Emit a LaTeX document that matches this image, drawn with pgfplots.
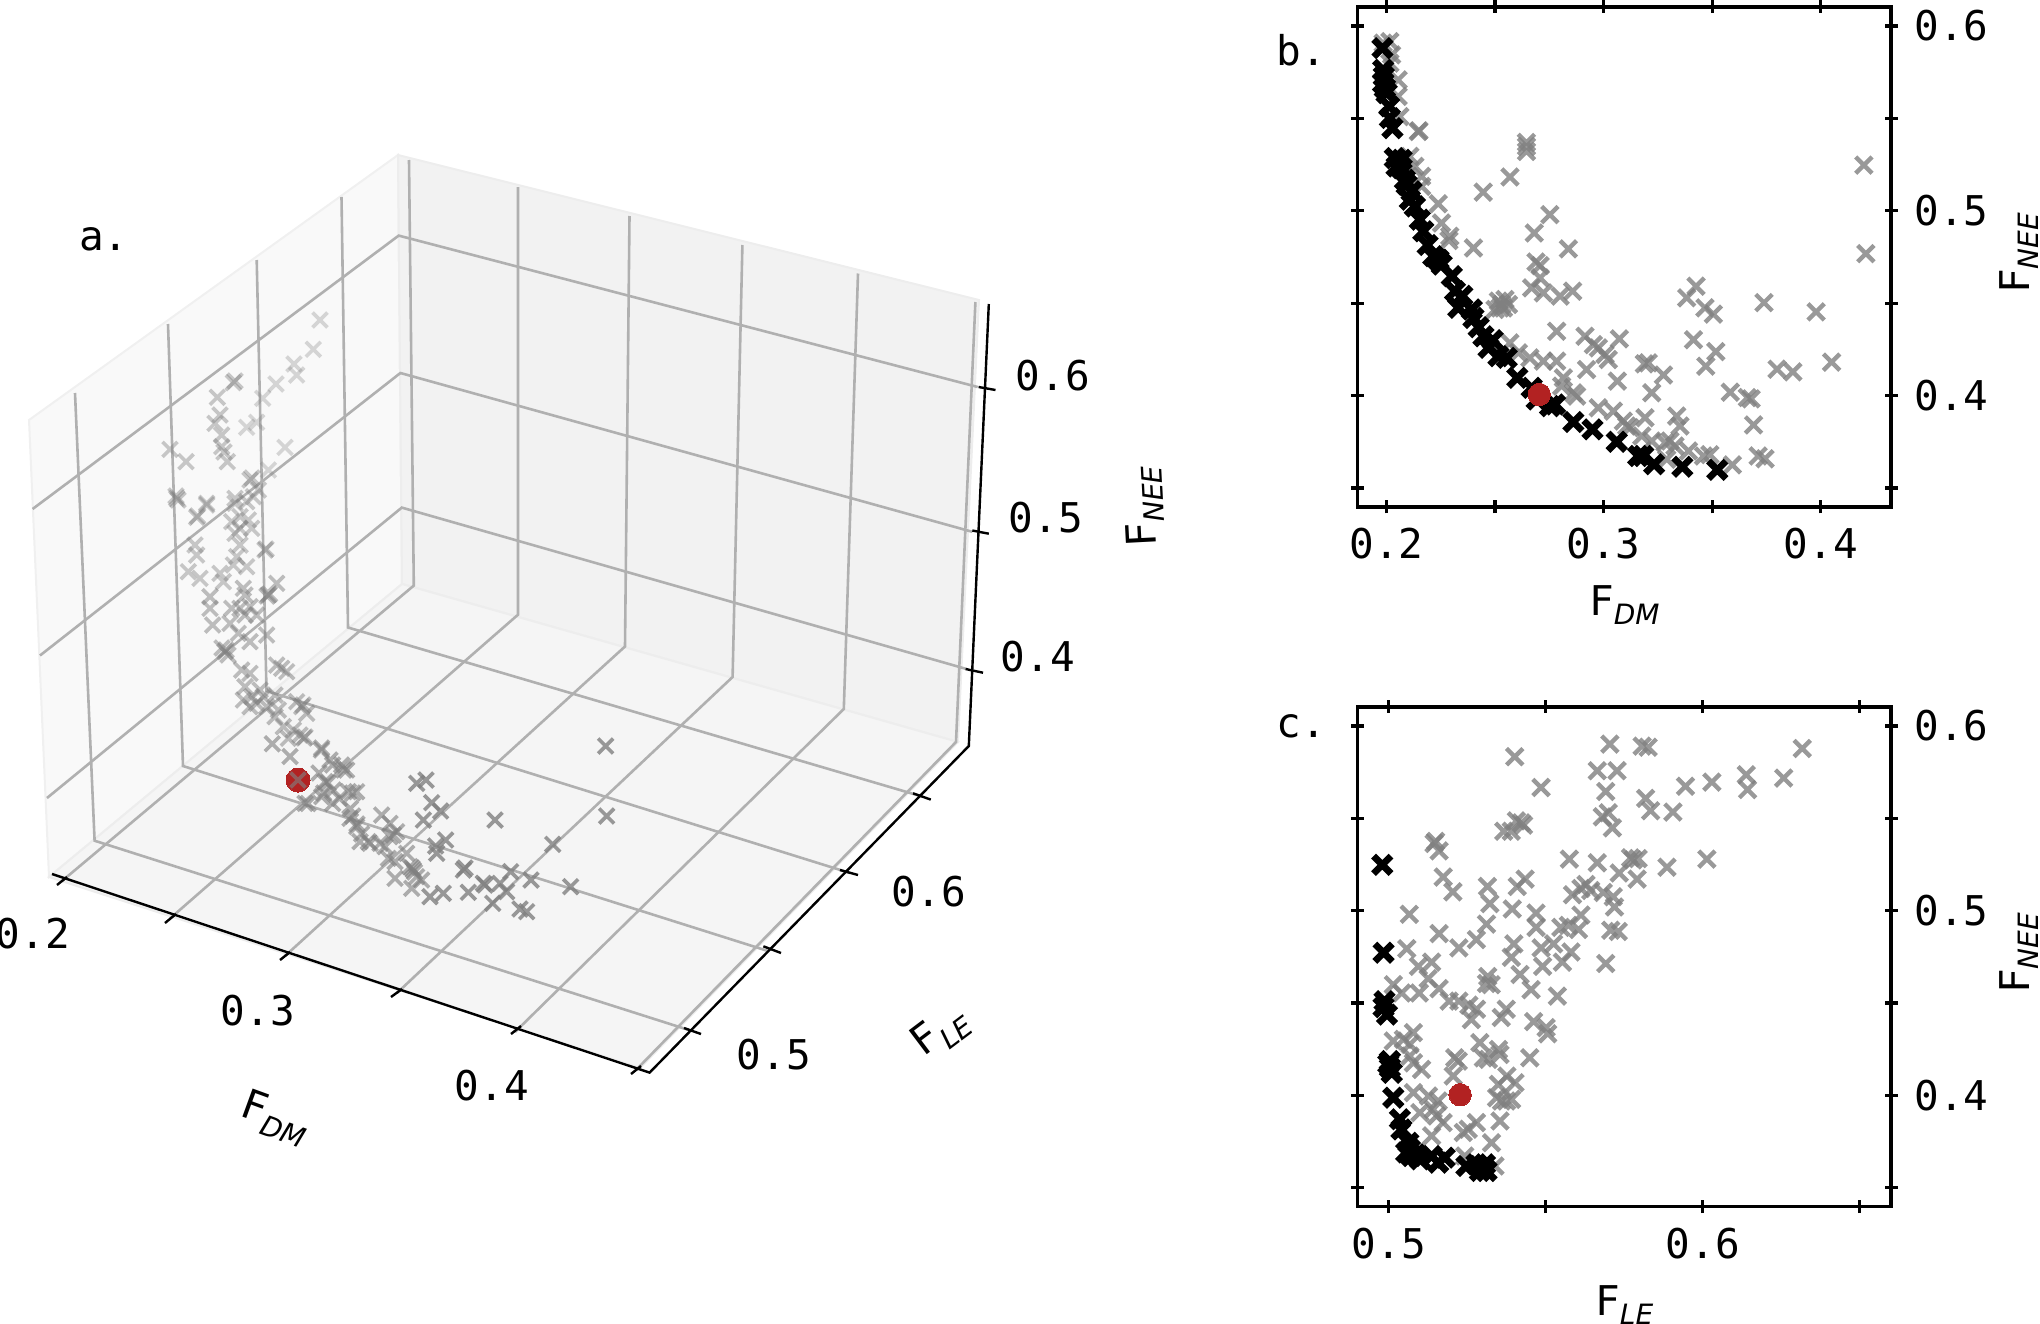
\documentclass[border=0pt]{standalone}
\usepackage{fontspec}
\usepackage{pgfplots}
\pgfplotsset{compat=1.18}
\setmainfont{DejaVu Sans Mono}
\newfontfamily\dvsans{DejaVu Sans}
\definecolor{firebrick}{HTML}{B22222}
\definecolor{gridg}{HTML}{B0B0B0}
\newcommand\lab[1]{F\raisebox{-0.24em}{\dvsans\itshape\fontsize{14}{15}\selectfont #1}}
\newcommand\bigf{\fontsize{20.5}{22}\selectfont}
\pgfplotsset{
  panel/.style={
    scale only axis, width=266.75pt,
    xticklabel style={font=\bigf, yshift=-4pt},
    yticklabel style={font=\bigf, xshift=5pt},
    label style={font=\bigf},
    tick align=center, major tick length=6.5pt,
    tick style={black, line width=1.6pt},
    axis line style={line width=1.6pt},
    yticklabel pos=right,
    ytick={0.35,0.4,0.45,0.5,0.55,0.6},
    yticklabels={,0.4,,0.5,,0.6},
    ymin=0.3397, ymax=0.6103,
    ylabel={\lab{NEE}},
    y label style={at={(axis description cs:1.24,0.507)},anchor=center},
  },
  graypt/.style={only marks, mark=x, mark size=5.8pt, mark options={draw=gray, draw opacity=0.8, line width=2.2pt}},
  blackpt/.style={only marks, mark=x, mark size=6.2pt, mark options={draw=black, line width=3.4pt}},
  redpt/.style={only marks, color=firebrick, mark=*, mark size=5.6pt, mark options={draw=firebrick, fill=firebrick, line width=0pt}},
  gl/.style={draw=gridg, line width=1.3pt, no markers},
  ax/.style={draw=black, line width=1.2pt, no markers},
  pt3/.style={only marks, mark=x, mark size=5.3pt, mark options={draw=gray, draw opacity=#1, line width=1.8pt}},
}
\begin{document}
\begin{tikzpicture}
\useasboundingbox (0,0) rectangle (1020pt,661.5pt);

% panel a: mplot3d projection, everything in picture pixels
\begin{axis}[
  at={(0,0)}, anchor=south west, scale only axis, width=1020pt, height=661.5pt,
  xmin=0, xmax=2040, ymin=0, ymax=1323, y dir=reverse, hide axis, clip=false,
  nodes={font=\bigf},
]
% panes
\addplot[fill=black!2.5, draw=black!6, line width=1pt] coordinates {(29,420)(398,155)(402,584)(49,877)} -- cycle;
\addplot[fill=black!5, draw=black!7, line width=1pt] coordinates {(398,155)(979,300)(958,742)(402,584)} -- cycle;
\addplot[fill=black!4, draw=black!7, line width=1pt] coordinates {(49,877)(402,584)(958,742)(640,1068)} -- cycle;

% z grid
\addplot[gl] coordinates {(32.6,509)(398.7,235.6)(977.7,387)};
\addplot[gl] coordinates {(40,655.5)(400.4,373)(972.3,531.8)};
\addplot[gl] coordinates {(47,798)(401.8,507.6)(966.5,669)};
% F_LE grid
\addplot[gl] coordinates {(75,393)(94.6,840.7)(692,1031)};
\addplot[gl] coordinates {(168,324)(183,766)(768,951)};
\addplot[gl] coordinates {(256.7,260)(266.5,691)(850,873)};
\addplot[gl] coordinates {(341.5,197)(348,627.5)(922,796.5)};
% F_DM grid
\addplot[gl] coordinates {(409,160)(413.8,585.6)(62,881)};
\addplot[gl] coordinates {(518,187)(518,614.7)(170,918.5)};
\addplot[gl] coordinates {(629.5,216)(625,646.5)(285,956)};
\addplot[gl] coordinates {(742.4,245)(732.6,677)(397,993)};
\addplot[gl] coordinates {(858,273.5)(843.8,709)(515,1032)};
\addplot[gl] coordinates {(975.4,302)(956,742)(636,1070)};

% axes
\addplot[ax] coordinates {(52,874)(649.6,1072.6)(968.8,746)(988.8,304)};
\addplot[ax] coordinates {(57,885)(67,877)};
\addplot[ax] coordinates {(165,923)(176,914)};
\addplot[ax] coordinates {(280,960)(290,952)};
\addplot[ax] coordinates {(391,997)(402,989)};
\addplot[ax] coordinates {(511,1034)(521,1026)};
\addplot[ax] coordinates {(631,1074)(641,1066)};
\addplot[ax] coordinates {(684,1028)(701,1034)};
\addplot[ax] coordinates {(763.4,946.3)(781,953)};
\addplot[ax] coordinates {(840,870)(858,875)};
\addplot[ax] coordinates {(913,793.3)(930.8,799.6)};
\addplot[ax] coordinates {(965.6,669)(983,672.7)};
\addplot[ax] coordinates {(972.3,530.5)(988.8,533.7)};
\addplot[ax] coordinates {(978.6,387)(995.5,390)};

\addplot[redpt, mark size=6pt] coordinates {(298,780)};

% points, lightest (farthest) first
\addplot[pt3=0.3] coordinates {(320,320)(313.3,349.3)(294,364)(296.7,375)(276,384)(262.7,398.3)(246.7,427.3)(256.7,422.3)(285,447.3)(268.3,470)};
\addplot[pt3=0.42] coordinates {
(233.3,382.7)(235,381)(217.3,397.3)(220,415)(215,423.3)(221.7,435)(221.7,446.7)(227.3,461.7)(224,452)
(170,449.3)(186,461.7)(250,480)(252,478)(258.3,490)(235,498.3)(206.7,503.3)(253.3,496.7)
(176.7,498.3)(178,500)(176,496)(196.7,517.3)(197.7,516)(206.7,505)(235,503.3)(246.7,501.7)
(231.7,521.7)(240,516.7)(248.3,520)(240,528.3)(235,533.3)(251.7,528.3)(240,545)(236.7,556.7)(246.7,566.7)(233.3,565)
(265,550)(266,549)(195,545)(196.7,555)(188.3,571.7)(200,578.3)(220,573.3)(223.3,581.7)};
\addplot[pt3=0.5] coordinates {
(276.7,583.3)(268.3,595)(269.5,594)(267,596)(243.3,588.3)(245,595)(210,596.7)(210,608.3)
(231.7,608.3)(240,608.3)(250,606.7)(245,615)(256.7,615)(212.7,625)(230,623.3)(266.7,635)(250,641.7)(238.3,633.3)
(225,651.7)(222,648)(228,655)(226,650)(241.7,670)(250,673.3)(281.7,668.3)(276.7,665)(286.7,671.7)(245,686.7)
(251.7,696.7)(243.3,700)(256.7,703.3)(263.3,696.7)(250,706.7)(266.7,706.7)(275,695)(278.3,710)(260,690)
(301.7,706.7)(303,705)(296.7,701.7)(306.7,713.3)(275,716.7)(283.3,726.7)(293.3,730)(300,735)(288.3,738.3)(304,738)(305,737)};
\addplot[pt3=0.62] coordinates {
(272.3,743.8)(290,756.5)(298,780)(308,803.5)(321.4,750)(332.6,765)(343.8,770)(319,773)(328,783)(323.7,793)(332.6,803.5)
(339.3,798.4)(352.7,793)(350.4,808.6)(357,824)(352.7,816)(361.6,834)(368.3,841.7)(321.7,748)(330,760)(341.7,765)(346.7,770)
(325,781.7)(333.3,790)(321.7,796.7)(348.3,791.7)(356.7,791.7)(305,803.3)
(381.7,815)(390,823.3)(396.7,831.7)(390,836.7)(385,846.7)(393.3,835)(380,843.3)(388.3,858.3)(395,861.7)
(350,818.3)(356.7,826.7)(360,841.7)(370,843.3)
(413.3,870)(414.5,872)(412,868)(416.7,876.7)(410,866.7)(421.7,880)(406.7,853.3)(395,878.3)(411.7,888.3)};
\addplot[pt3=0.8] coordinates {
(416.7,783.3)(426,780)(431.7,802.7)(440.7,811)(423.3,820)(495,820)(605.7,746)(606.7,816)(552.7,844.3)
(445.7,840)(435.7,846)(436.7,853.3)(463.3,870)(465,868)(483.3,883.3)(485,885)(500,883.3)(510.7,871.7)(531,880)(570.7,886.7)
(468.3,892.3)(492.7,903.3)(506.7,891.7)(520,909)(526.7,911.7)(443.3,893.3)(430,896.7)};

% texts of panel a
\node at (104,239) {a.};
\node at (1301,50) {b.};
\node at (1301,726) {c.};
\node at (33,934) {0.2};
\node at (258,1011) {0.3};
\node at (492,1086) {0.4};
\node at (774,1055) {0.5};
\node at (929,892) {0.6};
\node at (1038,657) {0.4};
\node at (1046,518) {0.5};
\node at (1053,376) {0.6};
\node[rotate=-20] at (275,1118) {\lab{DM}};
\node[rotate=37] at (941,1032) {\lab{LE}};
\node[rotate=93] at (1144,507) {\lab{NEE}};
\end{axis}

% panel b
\begin{axis}[
  panel, at={(678.75pt,658pt)}, anchor=north west, height=250pt,
  xmin=0.1867, xmax=0.4324,
  xtick={0.2,0.25,0.3,0.35,0.4}, xticklabels={0.2,,0.3,,0.4},
  xlabel={\lab{DM}},
  x label style={at={(axis description cs:0.5,-0.196)},anchor=center},
]
\addplot[graypt] coordinates {
(.1985,.5907)(.2016,.5916)(.2024,.5844)(.2016,.5799)(.2054,.5709)(.2054,.5619)(.2062,.5510)(.2147,.5429)(.2150,.5433)
(.2645,.5370)(.2645,.5348)(.2645,.5321)(.2569,.5183)(.2446,.5101)(.2753,.4979)(.2681,.4880)
(.2108,.5294)(.2131,.5240)(.2162,.5186)(.2162,.5132)(.2239,.5038)(.2254,.4934)(.2292,.4862)(.2288,.4839)
(.4199,.5247)(.4208,.4768)(.2401,.4799)(.2838,.4794)(.2689,.4723)(.2708,.4703)(.2708,.4637)(.2669,.4583)(.2723,.4556)
(.2800,.4538)(.2858,.4565)(.3383,.4529)(.3426,.4592)(.3467,.4475)(.3506,.4441)(.3739,.4503)(.3979,.4453)
(.2516,.4511)(.2531,.4493)(.2500,.4466)(.2546,.4520)(.2523,.4474)(.2539,.4474)(.2562,.4493)
(.2784,.4348)(.2915,.4321)(.2953,.4276)(.2976,.4258)(.3022,.4195)(.3007,.4222)(.3073,.4307)
(.2569,.4285)(.2608,.4231)(.2661,.4204)(.2723,.4186)(.2784,.4186)(.2922,.4141)(.3064,.4078)
(.3188,.4172)(.3206,.4177)(.3276,.4111)(.3222,.4015)(.2815,.4096)(.2807,.4051)(.2861,.4015)(.2876,.3997)
(.2976,.3934)(.3045,.3916)(.3107,.3835)(.3091,.3862)(.3122,.3826)(.3191,.3880)(.3337,.3889)(.3352,.3835)
(.3176,.3781)(.3222,.3754)(.3283,.3745)(.3306,.3754)(.3329,.3727)(.3291,.3655)(.3391,.3700)(.3460,.3673)
(.3490,.3680)(.3593,.3625)(.3712,.3673)(.3744,.3658)(.3691,.3841)(.3584,.4018)(.3662,.3989)(.3680,.3982)
(.3414,.4302)(.3517,.4238)(.3471,.4159)(.3799,.4143)(.3872,.4128)(.4050,.4181)
};
\addplot[blackpt] coordinates {
(.1982,.5880)(.1985,.5763)(.1988,.5727)(.1985,.5691)(.1993,.5664)(.2001,.5637)(.2013,.5565)(.2016,.5502)(.2028,.5447)
(.2039,.5285)(.2070,.5276)(.2047,.5240)(.2070,.5231)(.2085,.5168)(.2093,.5141)(.2108,.5060)(.2131,.5024)(.2116,.5105)
(.2154,.4952)(.2170,.4889)(.2216,.4754)(.2255,.4709)(.2301,.4646)(.2316,.4565)(.2331,.4475)(.2393,.4466)(.2401,.4420)
(.2447,.4321)(.2470,.4258)(.2516,.4213)(.2554,.4204)(.2603,.4096)(.2669,.4042)(.2692,.3979)(.2754,.3943)(.2777,.3952)
(.2861,.3857)(.2949,.3817)(.3061,.3750)(.3160,.3673)(.3183,.3673)(.3233,.3628)(.3363,.3615)(.3524,.3598)
(.2190,.4815)(.2240,.4735)(.2350,.4540)(.2425,.4370)(.2490,.4300)
};
\addplot[redpt] coordinates {(.2704,.4006)};
\end{axis}

% panel c
\begin{axis}[
  panel, at={(678.75pt,308pt)}, anchor=north west, height=249.8pt,
  xmin=0.49, xmax=0.66,
  xtick={0.5,0.55,0.6,0.65}, xticklabels={0.5,,0.6,},
  xlabel={\lab{LE}},
  x label style={at={(axis description cs:0.5,-0.197)},anchor=center},
]
\addplot[graypt] coordinates {
(.6317,.5878)(.5826,.5885)(.5807,.5891)(.5704,.5902)(.5401,.5834)(.5664,.5758)(.5727,.5758)(.5485,.5667)(.5691,.5645)
(.5945,.5674)(.6029,.5696)(.6139,.5736)(.6143,.5656)(.6258,.5718)(.5818,.5608)(.5834,.5541)(.5905,.5534)
(.5699,.5530)(.5680,.5508)(.5712,.5448)(.5422,.5475)(.5406,.5486)(.5429,.5463)(.5366,.5430)(.5390,.5430)
(.5144,.5364)(.5149,.5375)(.5160,.5324)(.5575,.5279)(.5664,.5259)(.5778,.5275)(.5794,.5282)(.5770,.5286)(.5886,.5235)(.6013,.5279)
(.5173,.5182)(.5204,.5102)(.5314,.5131)(.5322,.5038)(.5409,.5131)(.5434,.5171)(.5734,.5204)(.5791,.5171)
(.5628,.5142)(.5612,.5120)(.5643,.5109)(.5585,.5086)(.5683,.5098)(.5715,.5075)(.5719,.5020)
(.5065,.4980)(.5393,.5009)(.5469,.4987)(.5469,.4909)(.5311,.4927)(.5612,.4976)(.5604,.4898)(.5572,.4920)(.5548,.4909)
(.5707,.4894)(.5731,.4887)(.5160,.4876)(.5279,.4843)(.5223,.4798)(.5057,.4794)
(.5398,.4820)(.5390,.4747)(.5485,.4798)(.5525,.4820)(.5580,.4776)(.5553,.4721)(.5490,.4698)(.5691,.4714)
(.5136,.4721)(.5094,.4698)(.5125,.4632)(.5418,.4654)(.5453,.4572)(.5315,.4643)(.5311,.4605)(.5326,.4599)(.5537,.4537)
(.5014,.4599)(.5041,.4554)(.5097,.4554)(.5160,.4577)(.5192,.4510)(.5223,.4510)(.5255,.4488)(.5279,.4466)(.5263,.4410)
(.5374,.4466)(.5358,.4421)(.5461,.4399)(.5501,.4366)(.5506,.4333)
(.5014,.4294)(.5046,.4303)(.5078,.4339)(.5067,.4276)(.5067,.4212)(.5078,.4176)(.5104,.4140)
(.5210,.4203)(.5221,.4185)(.5205,.4104)(.5290,.4285)(.5301,.4203)(.5349,.4248)(.5354,.4221)(.5317,.4194)(.5449,.4203)
(.5349,.4059)(.5376,.4104)(.5402,.4068)(.5343,.3987)(.5375,.3969)(.5391,.3978)(.5359,.3969)
(.5099,.3906)(.5126,.3996)(.5157,.3969)(.5078,.4014)(.5141,.3924)(.5152,.3888)(.5173,.3852)(.5136,.3780)
(.5354,.3861)(.5279,.3852)(.5237,.3798)(.5253,.3816)(.5327,.3743)(.5242,.3671)(.5338,.3617)
};
\addplot[blackpt] coordinates {
(.4979,.5248)(.4983,.4772)(.4986,.4510)(.4983,.4477)(.4994,.4437)
(.5003,.4185)(.5003,.4149)(.5009,.4122)(.4998,.4170)(.5014,.3987)(.5035,.3870)(.5040,.3815)
(.5062,.3743)(.5067,.3707)(.5072,.3671)(.5099,.3653)(.5136,.3671)(.5157,.3635)(.5178,.3662)(.5247,.3617)
(.5279,.3626)(.5306,.3626)(.5290,.3590)(.5311,.3590)(.5055,.3690)(.5085,.3680)
};
\addplot[redpt] coordinates {(.5227,.4003)};
\end{axis}
\end{tikzpicture}
\end{document}
